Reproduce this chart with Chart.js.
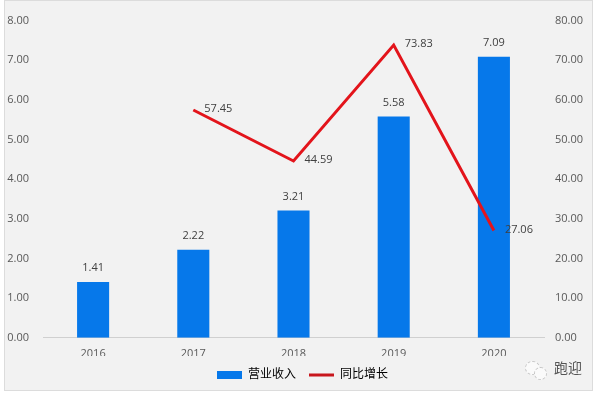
<!DOCTYPE html>
<html>
<head>
<meta charset="utf-8">
<style>
html,body{margin:0;padding:0;background:#fff;}
#wrap{position:relative;width:599px;height:394px;overflow:hidden;}
#frame{position:absolute;left:4px;top:0;width:589px;height:391px;background:#f2f2f2;border:1px solid #dcdcdc;box-sizing:border-box;}
canvas{position:absolute;left:0;top:0;}
#mark{position:absolute;left:554px;top:357px;font:14px "Noto Sans CJK SC";color:#555;}
.logo{position:absolute;border-radius:50%;background:#fafafa;border:1px dashed #c4c4c4;box-sizing:border-box;}
</style>
</head>
<body>
<div id="wrap">
<div id="frame"></div>
<canvas id="myChart" width="599" height="394"></canvas>
<div class="logo" style="left:525px;top:361px;width:15px;height:14px"></div>
<div class="logo" style="left:534px;top:367px;width:13px;height:13px"></div>
<div id="mark">跑迎</div>
</div>
<script src="https://cdn.jsdelivr.net/npm/chart.js@4"></script>
<script>
var years=["2016","2017","2018","2019","2020"];
var revenue=[1.41,2.22,3.21,5.58,7.09];
var growth=[null,57.45,44.59,73.83,27.06];
var font='"Open Sans","Noto Sans CJK SC",sans-serif';

// value labels, placed from the library's own element positions
var valueLabels={
  id:'valueLabels',
  afterDatasetsDraw(chart){
    var ctx=chart.ctx;
    ctx.save();
    ctx.font='11px '+font;
    ctx.fillStyle='#404040';
    ctx.textBaseline='middle';
    ctx.textAlign='center';
    chart.getDatasetMeta(1).data.forEach(function(el,i){
      ctx.fillText(revenue[i].toFixed(2),el.x,el.y-14);
    });
    ctx.textAlign='left';
    chart.getDatasetMeta(0).data.forEach(function(el,i){
      if(growth[i]==null) return;
      ctx.fillText(growth[i].toFixed(2),el.x+11,el.y-1);
    });
    ctx.restore();
  }
};

new Chart(document.getElementById('myChart'),{
  data:{
    labels:years,
    datasets:[
      {type:'line',label:'同比增长',data:growth,yAxisID:'y2',borderColor:'#e3141b',backgroundColor:'#e3141b',borderWidth:3,pointRadius:0,tension:0,spanGaps:false},
      {type:'bar',label:'营业收入',data:revenue,yAxisID:'y',backgroundColor:'#0678ea',barPercentage:0.64,categoryPercentage:0.5}
    ]
  },
  options:{
    responsive:false,
    animation:false,
    layout:{padding:{left:6,right:0,top:18,bottom:3}},
    plugins:{
      tooltip:{enabled:false},
      legend:{
        position:'bottom',
        labels:{
          font:{size:12,family:font},
          color:'#595959',
          usePointStyle:true,
          pointStyleWidth:25,
          boxHeight:8,
          padding:13,
          generateLabels:function(){
            return [
              {text:'营业收入',fillStyle:'#0678ea',strokeStyle:'#0678ea',lineWidth:0,pointStyle:'rect',datasetIndex:1},
              {text:'同比增长',fillStyle:'#c8161d',strokeStyle:'#c8161d',lineWidth:3,pointStyle:'line',datasetIndex:0}
            ];
          }
        }
      }
    },
    scales:{
      x:{
        afterFit:function(a){a.height-=13;},
        grid:{display:false,drawTicks:false},
        border:{color:'#d0d0d0'},
        ticks:{color:'#595959',font:{size:11,family:font},padding:9}
      },
      y:{
        position:'left',min:0,max:8,
        afterFit:function(a){a.width=37;},
        grid:{display:false,drawTicks:false},
        border:{display:false},
        ticks:{stepSize:1,color:'#595959',font:{size:11,family:font},padding:14,callback:function(v){return v.toFixed(2);}}
      },
      y2:{
        position:'right',min:0,max:80,
        afterFit:function(a){a.width=55;},
        grid:{display:false,drawTicks:false},
        border:{display:false},
        ticks:{stepSize:10,color:'#595959',font:{size:11,family:font},padding:11,callback:function(v){return v.toFixed(2);}}
      }
    }
  },
  plugins:[valueLabels]
});
</script>
</body>
</html>
